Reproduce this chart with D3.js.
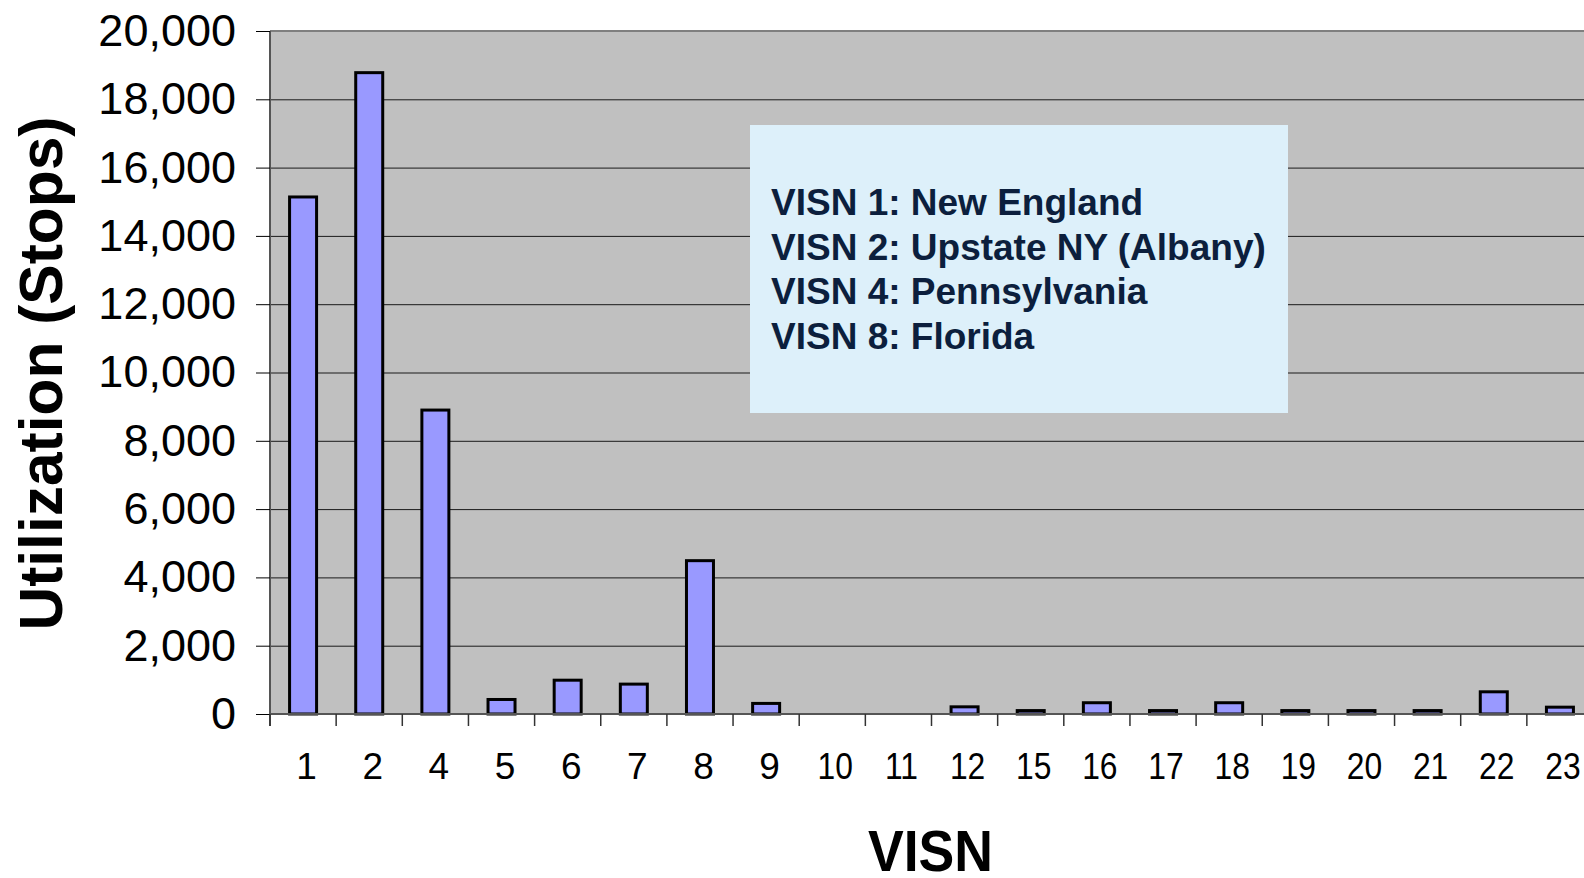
<!DOCTYPE html>
<html>
<head>
<meta charset="utf-8">
<script src="https://cdn.jsdelivr.net/npm/d3@7"></script>
<style>
  html, body { margin: 0; padding: 0; background: #ffffff; overflow: hidden; }
  svg { display: block; }
</style>
</head>
<body>
<svg id="chart" width="1584" height="878"></svg>
<script>
// VISN categories and utilization (stops)
const categories = ["1", "2", "4", "5", "6", "7", "8", "9", "10", "11", "12", "15", "16", "17", "18", "19", "20", "21", "22", "23"];
const stops = [15140, 18780, 8900, 425, 990, 875, 4490, 310, 0, 0, 210, 100, 330, 100, 330, 100, 100, 100, 650, 200];
const yTicks = [0, 2000, 4000, 6000, 8000, 10000, 12000, 14000, 16000, 18000, 20000];
const legendLines = [
  "VISN 1: New England",
  "VISN 2: Upstate NY (Albany)",
  "VISN 4: Pennsylvania",
  "VISN 8: Florida"
];

const data = categories.map((c, i) => ({ visn: c, value: stops[i] }));

const svg = d3.select("#chart");
const plot = { left: 270, right: 1593, top: 31, bottom: 714 };

const x = d3.scaleBand()
  .domain(categories)
  .range([plot.left, plot.right])
  .paddingInner(0)
  .paddingOuter(0);

const y = d3.scaleLinear()
  .domain([0, 20000])
  .range([plot.bottom, plot.top]);

// plot background
svg.append("rect")
  .attr("x", plot.left)
  .attr("y", plot.top)
  .attr("width", plot.right - plot.left)
  .attr("height", plot.bottom - plot.top)
  .style("fill", "#c0c0c0");

// gridlines
svg.append("g")
  .attr("transform", `translate(${plot.left},0)`)
  .call(d3.axisLeft(y).tickValues(yTicks.filter(d => d > 0)).tickSize(-(plot.right - plot.left)).tickFormat(""))
  .call(g => g.select(".domain").remove())
  .call(g => g.selectAll(".tick line").style("stroke", "#1a1a1a").style("stroke-width", 1));

// top border
svg.append("line")
  .attr("x1", plot.left).attr("x2", plot.right)
  .attr("y1", plot.top).attr("y2", plot.top)
  .style("stroke", "#7f7f7f")
  .style("stroke-width", 2);

// bars
const barWidth = 27;
svg.append("g")
  .selectAll("rect")
  .data(data.filter(d => d.value > 0))
  .join("rect")
  .attr("x", d => x(d.visn) + (x.bandwidth() - barWidth) / 2)
  .attr("y", d => y(d.value))
  .attr("width", barWidth)
  .attr("height", d => y(0) - y(d.value))
  .style("fill", "#9999ff")
  .style("stroke", "#000000")
  .style("stroke-width", 3);

// y axis
const yAxis = svg.append("g")
  .attr("transform", `translate(${plot.left},0)`)
  .call(d3.axisLeft(y).tickValues(yTicks).tickSize(14).tickPadding(20).tickFormat(d3.format(",")));
yAxis.select(".domain")
  .attr("d", `M0,${plot.top}V${plot.bottom + 12}`)
  .style("stroke", "#555555")
  .style("stroke-width", 2);
yAxis.selectAll(".tick line").style("stroke", "#000000");
yAxis.selectAll(".tick text")
  .style("font-family", "'Liberation Sans', Arial, sans-serif")
  .style("font-size", "45px")
  .style("fill", "#000000");

// x axis
const xAxis = svg.append("g")
  .attr("transform", `translate(0,${plot.bottom})`)
  .call(d3.axisBottom(x).tickSize(0).tickPadding(39));
xAxis.select(".domain")
  .attr("d", `M${plot.left},0H${plot.right}`)
  .style("stroke", "#555555")
  .style("stroke-width", 2);
xAxis.selectAll(".tick text")
  .attr("transform", d => d.length > 1 ? "translate(3,0) scale(0.86,1)" : "translate(3.5,0)")
  .style("font-family", "'Liberation Sans', Arial, sans-serif")
  .style("font-size", "37px")
  .style("fill", "#000000");

// category boundary ticks
const boundaries = categories.map(c => x(c)).concat([x.range()[1]]);
xAxis.append("g")
  .selectAll("line")
  .data(boundaries)
  .join("line")
  .attr("x1", d => d).attr("x2", d => d)
  .attr("y1", 0).attr("y2", 12)
  .style("stroke", "#333333")
  .style("stroke-width", 1.5);

// axis titles
svg.append("text")
  .attr("transform", `translate(62,${(plot.top + plot.bottom) / 2 + 1}) rotate(-90)`)
  .attr("text-anchor", "middle")
  .attr("textLength", 514)
  .attr("lengthAdjust", "spacingAndGlyphs")
  .style("font-family", "'Liberation Sans', Arial, sans-serif")
  .style("font-weight", "bold")
  .style("font-size", "62px")
  .style("fill", "#000000")
  .text("Utilization (Stops)");

svg.append("text")
  .attr("x", (plot.left + plot.right) / 2 - 1)
  .attr("y", 871)
  .attr("text-anchor", "middle")
  .attr("textLength", 125)
  .attr("lengthAdjust", "spacingAndGlyphs")
  .style("font-family", "'Liberation Sans', Arial, sans-serif")
  .style("font-weight", "bold")
  .style("font-size", "58px")
  .style("fill", "#000000")
  .text("VISN");

// legend box
const legend = svg.append("g").attr("transform", "translate(750,125)");
legend.append("rect")
  .attr("width", 538)
  .attr("height", 288)
  .style("fill", "#ddf0fa");
legend.selectAll("text")
  .data(legendLines)
  .join("text")
  .attr("x", 21)
  .attr("y", (d, i) => 90 + i * 44.5)
  .style("font-family", "'Liberation Sans', Arial, sans-serif")
  .style("font-weight", "bold")
  .style("font-size", "37px")
  .style("fill", "#0c1f3d")
  .text(d => d);
</script>
</body>
</html>
